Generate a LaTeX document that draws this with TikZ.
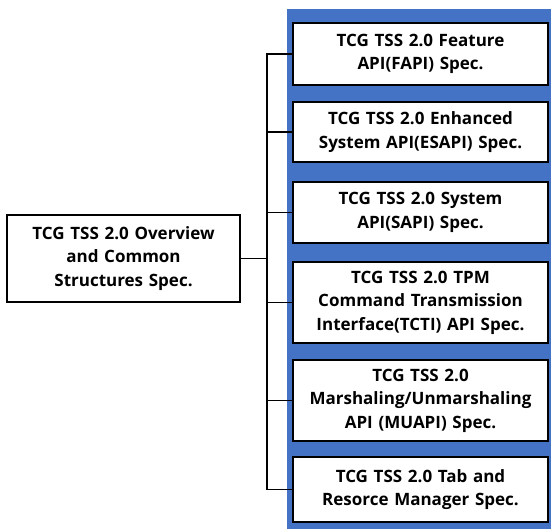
\documentclass[tikz,border=0pt]{standalone}
\usepackage{fontspec}
\setmainfont{Open Sans}
\usetikzlibrary{positioning}
\definecolor{panelColor}{RGB}{68,114,196}
\tikzstyle{diagram} = [x = 1pt, y = -1pt]
\tikzstyle{specText} = [font=\bfseries\fontsize{17}{23.5}\selectfont, align=center]
\tikzstyle{specBox} = [specText, draw=black, fill=white, line width=1.3pt, inner sep=0pt, minimum width=255pt, text width=250pt]
\tikzstyle{rootBox} = [specText, draw=black, fill=white, line width=1.3pt, inner sep=0pt, minimum width=233pt, minimum height=87pt, text width=228pt]
\tikzstyle{treeLine} = [color=black, line width=1.3pt]
\newcommand{\specBox}[4]{\node [specBox, minimum height=#3pt] (#1) at (420.5, #2) {#4};}

\begin{document}
\begin{tikzpicture}[diagram]
  \useasboundingbox (0,0) rectangle (551,529);
  \fill [panelColor] (287,9) rectangle (551,529);

  \node [rootBox] (overview) at (123.5,258.5) {TCG TSS 2.0 Overview\\and Common\\Structures Spec.};

  \specBox{fapi}{54}{62}{TCG TSS 2.0 Feature\\API(FAPI) Spec.}
  \specBox{esapi}{132}{60}{TCG TSS 2.0 Enhanced\\System API(ESAPI) Spec.}
  \specBox{sapi}{212.5}{61}{TCG TSS 2.0 System\\API(SAPI) Spec.}
  \specBox{tcti}{302.5}{81}{TCG TSS 2.0 TPM\\Command Transmission\\Interface(TCTI) API Spec.}
  \specBox{muapi}{400.5}{81}{TCG TSS 2.0\\Marshaling/Unmarshaling\\API (MUAPI) Spec.}
  \specBox{tabrm}{489.5}{65}{TCG TSS 2.0 Tab and\\Resorce Manager Spec.}

  \coordinate (trunk) at (267,258.5);
  \draw [treeLine] (overview.east) -- (trunk);
  \draw [treeLine] (fapi.west) -- (fapi.west -| trunk) -- (tabrm.west -| trunk) -- (tabrm.west);
  \foreach \spec in {esapi, sapi, tcti, muapi} {
    \draw [treeLine] (\spec.west) -- (\spec.west -| trunk);
  }
\end{tikzpicture}
\end{document}
